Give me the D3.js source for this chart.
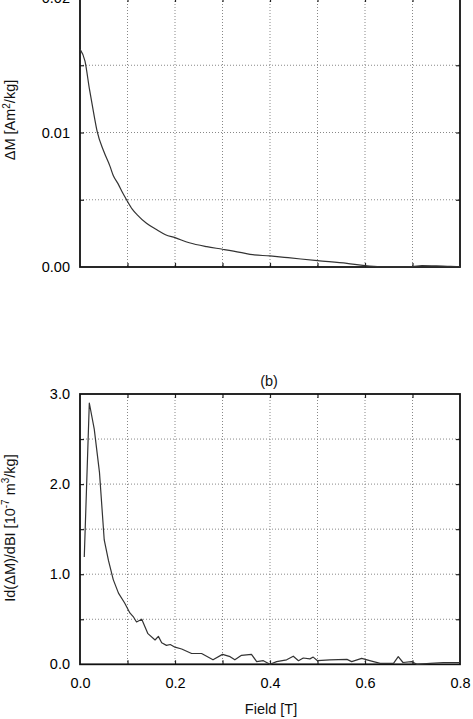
<!DOCTYPE html>
<html>
<head>
<meta charset="utf-8">
<script src="https://cdn.jsdelivr.net/npm/d3@7"></script>
<style>
 body { margin: 0; background: #fff; }
 svg { display: block; font-family: "Liberation Sans", Arial, sans-serif; }
</style>
</head>
<body>
<div id="chart"></div>
<script>
// panel (a): delta M vs field
var fieldA = [0, 0.0105, 0.02, 0.03, 0.036, 0.05, 0.063, 0.07, 0.08, 0.09, 0.098, 0.11, 0.12, 0.14, 0.16, 0.18, 0.2, 0.23, 0.267, 0.3, 0.337, 0.358, 0.4, 0.438, 0.5, 0.562, 0.6, 0.632, 0.66, 0.7, 0.72, 0.75, 0.78, 0.8];
var dM = [0.0162, 0.0153, 0.0132, 0.0112, 0.0101, 0.0086, 0.0075, 0.0068, 0.0062, 0.0055, 0.0050, 0.0043, 0.0039, 0.00325, 0.0028, 0.0024, 0.00218, 0.0018, 0.00151, 0.00132, 0.00109, 0.00094, 0.00082, 0.00069, 0.00047, 0.00027, 0.0001, 0.00002, 0.00001, 0.00003, 0.0001, 0.00008, 0.00004, 0.00003];

// panel (b): |d(dM)/dB| vs field
var fieldB = [0.009, 0.0196, 0.030, 0.041, 0.051, 0.060, 0.070, 0.081, 0.094, 0.105, 0.112, 0.119, 0.13, 0.143, 0.158, 0.165, 0.172, 0.182, 0.19, 0.2, 0.214, 0.235, 0.256, 0.28, 0.3, 0.316, 0.326, 0.34, 0.361, 0.372, 0.386, 0.4, 0.414, 0.435, 0.449, 0.46, 0.47, 0.484, 0.491, 0.5, 0.526, 0.562, 0.572, 0.593, 0.61, 0.632, 0.66, 0.67, 0.68, 0.698, 0.709, 0.737, 0.765, 0.8];
var dMdB = [1.19, 2.90, 2.61, 2.13, 1.38, 1.15, 0.94, 0.79, 0.68, 0.57, 0.53, 0.47, 0.50, 0.34, 0.27, 0.31, 0.24, 0.21, 0.22, 0.19, 0.17, 0.12, 0.12, 0.05, 0.11, 0.085, 0.05, 0.10, 0.11, 0.03, 0.04, 0.0, 0.03, 0.05, 0.09, 0.04, 0.07, 0.06, 0.08, 0.04, 0.05, 0.055, 0.03, 0.065, 0.04, 0.01, 0.01, 0.085, 0.02, 0.03, 0.0, 0.01, 0.02, 0.02];

var xTicks = [0, 0.2, 0.4, 0.6, 0.8];
var xGrid = [0.1, 0.2, 0.3, 0.4, 0.5, 0.6, 0.7];
var yTicksA = [0, 0.01, 0.02];
var yGridA = [0.005, 0.01, 0.015];
var yTicksB = [0, 1, 2, 3];
var yGridB = [0.5, 1, 1.5, 2, 2.5];

var W = 473, H = 719;
var left = 80, right = 460;

var svg = d3.select("#chart").append("svg")
 .attr("width", W)
 .attr("height", H);

var x = d3.scaleLinear().domain([0, 0.8]).range([left, right]);
var yA = d3.scaleLinear().domain([0, 0.02]).range([267, -2]);
var yB = d3.scaleLinear().domain([0, 3]).range([664.3, 394]);

function panel(y, yTicks, yGrid, fmt, xs, ys, showX, curve) {
 var g = svg.append("g");
 var top = y.range()[1], bot = y.range()[0];

 // dotted grid
 g.selectAll(".vg").data(xGrid).enter().append("line")
  .attr("x1", function(d) { return x(d); }).attr("x2", function(d) { return x(d); })
  .attr("y1", top).attr("y2", bot)
  .attr("stroke", "#888").attr("stroke-width", 1).attr("stroke-dasharray", "1,2");
 g.selectAll(".hg").data(yGrid).enter().append("line")
  .attr("x1", left).attr("x2", right)
  .attr("y1", function(d) { return y(d); }).attr("y2", function(d) { return y(d); })
  .attr("stroke", "#888").attr("stroke-width", 1).attr("stroke-dasharray", "1,2");

 // inward ticks on all sides
 g.append("g").attr("transform", "translate(" + left + ",0)")
  .call(d3.axisRight(y).tickValues(yGrid).tickSize(4).tickFormat(""));
 g.append("g").attr("transform", "translate(" + right + ",0)")
  .call(d3.axisLeft(y).tickValues(yGrid).tickSize(4).tickFormat(""));
 g.append("g").attr("transform", "translate(0," + bot + ")")
  .call(d3.axisTop(x).tickValues(xGrid).tickSize(4).tickFormat(""));
 g.append("g").attr("transform", "translate(0," + top + ")")
  .call(d3.axisBottom(x).tickValues(xGrid).tickSize(4).tickFormat(""));
 g.selectAll(".domain").remove();
 g.selectAll(".tick line").attr("stroke", "#222").attr("stroke-width", 1.2);

 // y labels
 g.append("g").attr("transform", "translate(" + left + ",0)")
  .call(d3.axisLeft(y).tickValues(yTicks).tickSize(0).tickPadding(10).tickFormat(d3.format(fmt)))
  .call(function(a) {
   a.select(".domain").remove();
   a.selectAll("text").attr("font-size", 14.5).attr("fill", "#000")
    .attr("font-family", "Liberation Sans, Arial, sans-serif");
  });

 if (showX) {
  g.append("g").attr("transform", "translate(0," + bot + ")")
   .call(d3.axisBottom(x).tickValues(xTicks).tickSize(0).tickPadding(13).tickFormat(d3.format(".1f")))
   .call(function(a) {
    a.select(".domain").remove();
    a.selectAll("text").attr("font-size", 14.5).attr("fill", "#000")
     .attr("font-family", "Liberation Sans, Arial, sans-serif");
   });
 }

 // frame
 g.append("rect")
  .attr("x", left).attr("y", top)
  .attr("width", right - left).attr("height", bot - top)
  .attr("fill", "none").attr("stroke", "#111").attr("stroke-width", 1.8);

 // data line
 var line = d3.line()
  .curve(curve)
  .x(function(d, i) { return x(xs[i]); })
  .y(function(d, i) { return y(ys[i]); });
 g.append("path")
  .datum(xs)
  .attr("d", line)
  .attr("fill", "none")
  .attr("stroke", "#333")
  .attr("stroke-width", 1.2)
  .attr("stroke-linejoin", "round");
}

panel(yA, yTicksA, yGridA, ".2f", fieldA, dM, false, d3.curveMonotoneX);
panel(yB, yTicksB, yGridB, ".1f", fieldB, dMdB, true, d3.curveLinear);

// axis titles
var ylabA = svg.append("text")
 .attr("transform", "translate(15,120) rotate(-90)")
 .attr("text-anchor", "middle")
 .attr("font-size", 14.5).attr("fill", "#111");
ylabA.append("tspan").text("\u0394M  [Am");
ylabA.append("tspan").attr("font-size", 10).attr("dy", -5).text("2");
ylabA.append("tspan").attr("dy", 5).text("/kg]");

var ylabB = svg.append("text")
 .attr("transform", "translate(15,528) rotate(-90)")
 .attr("text-anchor", "middle")
 .attr("font-size", 14.5).attr("fill", "#111");
ylabB.append("tspan").text("Id(\u0394M)/dBI  [10");
ylabB.append("tspan").attr("font-size", 10).attr("dy", -6).text("-7");
ylabB.append("tspan").attr("dy", 6).text("  m");
ylabB.append("tspan").attr("font-size", 10).attr("dy", -6).text("3");
ylabB.append("tspan").attr("dy", 6).text("/kg]");

svg.append("text")
 .attr("x", 271).attr("y", 714)
 .attr("text-anchor", "middle")
 .attr("font-size", 14.5).attr("fill", "#111")
 .text("Field [T]");

svg.append("text")
 .attr("x", 269).attr("y", 386)
 .attr("text-anchor", "middle")
 .attr("font-size", 14.5).attr("fill", "#111")
 .text("(b)");
</script>
</body>
</html>
